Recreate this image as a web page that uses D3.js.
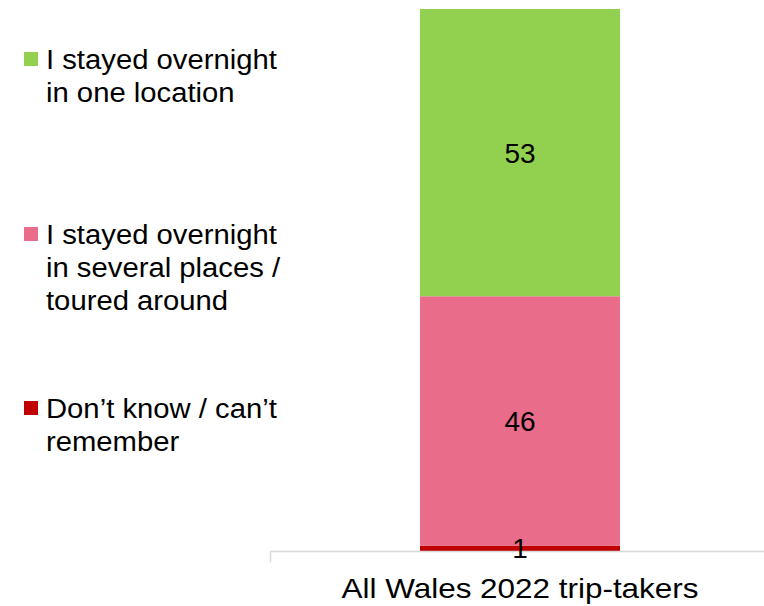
<!DOCTYPE html>
<html>
<head>
<meta charset="utf-8">
<script src="https://cdn.jsdelivr.net/npm/d3@7"></script>
<style>
  body { margin: 0; background: #fff; }
  svg { display: block; font-family: "Liberation Sans", Arial, sans-serif; }
</style>
</head>
<body>
<svg id="chart" width="764" height="606"></svg>
<script>
// Single stacked bar: where overnight trip-takers stayed
const categories = ["All Wales 2022 trip-takers"];
const seriesNames = [
  "Don’t know / can’t remember",
  "I stayed overnight in several places / toured around",
  "I stayed overnight in one location"
];
const seriesValues = [1, 46, 53];
const seriesColors = ["#c00000", "#e96c8a", "#92d050"];
const legendLines = [
  ["I stayed overnight", "in one location"],
  ["I stayed overnight", "in several places /", "toured around"],
  ["Don’t know / can’t", "remember"]
];

const svg = d3.select("#chart");
const plot = { left: 270, right: 770, top: 9, bottom: 551 };
const fontSize = 28;

const x = d3.scaleBand().domain(categories).range([plot.left, plot.right]).paddingInner(0).paddingOuter(0.3);
const y = d3.scaleLinear().domain([0, 100]).range([plot.bottom, plot.top]);

// stack the series
const row = { cat: categories[0] };
seriesNames.forEach((n, i) => row[n] = seriesValues[i]);
const stacked = d3.stack().keys(seriesNames)([row]);

const barX = 420, barW = 200;

const layers = svg.append("g").selectAll("g").data(stacked).join("g")
  .attr("fill", (d, i) => seriesColors[i]);

layers.selectAll("rect").data(d => d).join("rect")
  .attr("x", barX)
  .attr("width", barW)
  .attr("y", d => y(d[1]))
  .attr("height", d => y(d[0]) - y(d[1]));

// category axis
const axis = svg.append("g").attr("transform", `translate(0,${plot.bottom + 0.5})`);
axis.append("line").attr("x1", plot.left).attr("x2", 764).attr("stroke", "#d9d9d9").attr("stroke-width", 1.5);
axis.append("line").attr("x1", plot.left + 0.5).attr("x2", plot.left + 0.5).attr("y1", 0).attr("y2", 11)
  .attr("stroke", "#d9d9d9").attr("stroke-width", 1.5);
axis.append("text").attr("x", barX + barW / 2).attr("y", 46.5)
  .attr("text-anchor", "middle").attr("font-size", fontSize).attr("fill", "#000")
  .attr("textLength", 357).attr("lengthAdjust", "spacingAndGlyphs")
  .text(categories[0]);

// value labels
stacked.forEach(s => {
  const d = s[0];
  svg.append("text")
    .attr("x", barX + barW / 2)
    .attr("y", (y(d[0]) + y(d[1])) / 2 + 10)
    .attr("text-anchor", "middle")
    .attr("font-size", fontSize)
    .attr("fill", "#000")
    .text(d[1] - d[0]);
});

// legend
const legendBase = [69, 244, 418];
const legendColorIdx = [2, 1, 0];
const lineGap = 33;
legendLines.forEach((lines, i) => {
  const g = svg.append("g");
  g.append("rect").attr("x", 24).attr("y", legendBase[i] - 17).attr("width", 14).attr("height", 14)
    .attr("fill", seriesColors[legendColorIdx[i]]);
  lines.forEach((t, j) => {
    g.append("text").attr("x", 46).attr("y", legendBase[i] + j * lineGap)
      .attr("font-size", fontSize).attr("fill", "#000")
      .attr("transform", `translate(46,0) scale(1.045,1) translate(-46,0)`)
      .text(t);
  });
});
</script>
</body>
</html>
